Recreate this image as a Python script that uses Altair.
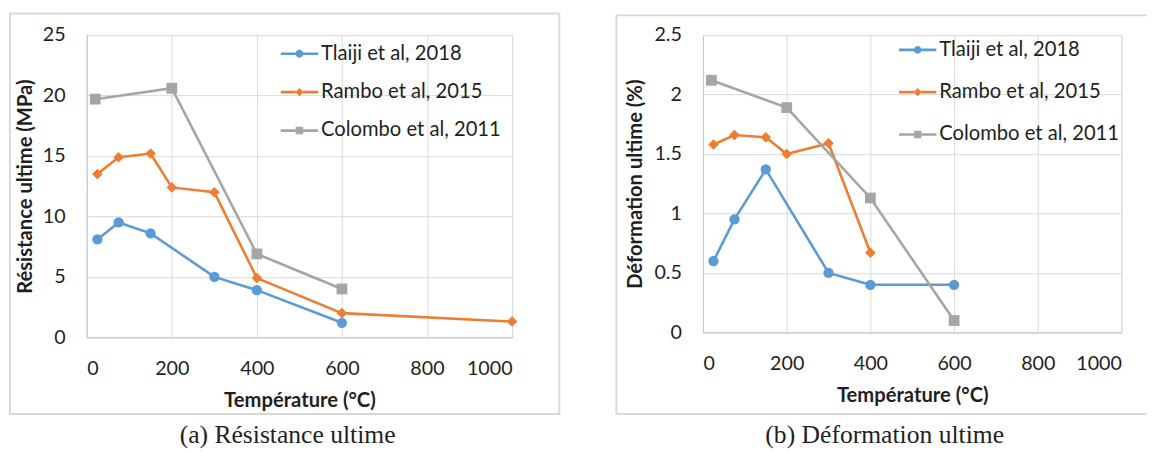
import altair as alt
import pandas as pd

series = ["Tlaiji et al, 2018", "Rambo et al, 2015", "Colombo et al, 2011"]
colors = ["#5B9BD5", "#ED7D31", "#A5A5A5"]

# (a) Résistance ultime (MPa)
tlaiji_T_a = [25, 75, 150, 300, 400, 600]
tlaiji_R = [8.1, 9.5, 8.6, 5.0, 3.9, 1.2]
rambo_T_a = [25, 75, 150, 200, 300, 400, 600, 1000]
rambo_R = [13.5, 14.9, 15.2, 12.4, 12.0, 4.9, 2.0, 1.3]
colombo_T_a = [20, 200, 400, 600]
colombo_R = [19.7, 20.6, 6.9, 4.0]

# (b) Déformation ultime (%)
tlaiji_T_b = [25, 75, 150, 300, 400, 600]
tlaiji_D = [0.60, 0.95, 1.37, 0.50, 0.40, 0.40]
rambo_T_b = [25, 75, 150, 200, 300, 400]
rambo_D = [1.58, 1.66, 1.64, 1.50, 1.59, 0.67]
colombo_T_b = [20, 200, 400, 600]
colombo_D = [2.12, 1.89, 1.13, 0.10]

x_ticks = [0, 200, 400, 600, 800, 1000]
y_ticks_a = [0, 5, 10, 15, 20, 25]
y_ticks_b = [0, 0.5, 1, 1.5, 2, 2.5]

FONT = "Lato"
TXT = "#1f1f1f"
GRID = "#D9D9D9"

legend_paths = [
    "M-1,-0.07H-0.2V0.07H-1Z M0.2,-0.07H1V0.07H0.2Z M-0.21,0A0.21,0.21,0,1,1,0.21,0A0.21,0.21,0,1,1,-0.21,0Z",
    "M-1,-0.07H-0.2V0.07H-1Z M0.2,-0.07H1V0.07H0.2Z M0,-0.22L0.22,0L0,0.22L-0.22,0Z",
    "M-1,-0.07H-0.2V0.07H-1Z M0.2,-0.07H1V0.07H0.2Z M-0.2,-0.2H0.2V0.2H-0.2Z",
]


def make_df(parts):
    rows = []
    for name, ts, vs in parts:
        for t, v in zip(ts, vs):
            rows.append({"T": t, "v": v, "series": name})
    return pd.DataFrame(rows)


def panel(df, y_ticks, y_title, w, h, box, legend_xy, row_pad, caption, cap_dx,
          y_title_pad, fmt):
    x = alt.X("T:Q", scale=alt.Scale(domain=[0, 1000], nice=False),
              axis=alt.Axis(values=x_ticks, title="Température (°C)", grid=True, format="d",
                            gridColor=GRID, domainColor="#C8C8C8", ticks=False, tickSize=0,
                            labelFont=FONT, labelFontSize=20, labelColor=TXT, labelPadding=22,
                            titleFont=FONT, titleFontSize=20.5, titleFontWeight="bold",
                            titleColor=TXT, titlePadding=12))
    y = alt.Y("v:Q", scale=alt.Scale(domain=[y_ticks[0], y_ticks[-1]], nice=False),
              axis=alt.Axis(values=y_ticks, title=y_title, grid=True, format=fmt,
                            gridColor=GRID, domainColor="#C8C8C8", ticks=False, tickSize=0,
                            labelFont=FONT, labelFontSize=20, labelColor=TXT, labelPadding=22,
                            titleFont=FONT, titleFontSize=20.5, titleFontWeight="bold",
                            titleColor=TXT, titlePadding=y_title_pad))
    cscale = alt.Scale(domain=series, range=colors)
    base = alt.Chart(df)
    line = base.mark_line(strokeWidth=2.6).encode(
        x=x, y=y, color=alt.Color("series:N", scale=cscale, legend=None),
        detail="series:N")
    pts = base.mark_point(filled=True, opacity=1).encode(
        x=x, y=y,
        color=alt.Color("series:N", scale=cscale, legend=None),
        shape=alt.Shape("series:N", scale=alt.Scale(domain=series,
                        range=["circle", "diamond", "square"]), legend=None),
        size=alt.Size("series:N", scale=alt.Scale(domain=series, range=[110, 120, 110]),
                      legend=None))
    leg = base.mark_point(filled=True, opacity=1).encode(
        x=x, y=y,
        color=alt.Color("series:N", scale=cscale, legend=alt.Legend(
            orient="none", legendX=legend_xy[0], legendY=legend_xy[1], title=None,
            labelFont=FONT, labelFontSize=20.5, labelColor=TXT, labelLimit=400,
            symbolSize=1444, symbolStrokeWidth=0, padding=0, rowPadding=row_pad,
            labelOffset=3)),
        shape=alt.Shape("series:N", scale=alt.Scale(domain=series, range=legend_paths)),
    ).transform_filter("false")

    bx0, by0, bx1, by1, full = box
    frame_df = pd.DataFrame({"k": [0]})
    if full:
        frame = alt.Chart(frame_df).mark_rect(filled=False, stroke=GRID, strokeWidth=2).encode(
            x=alt.value(bx0), x2=alt.value(bx1), y=alt.value(by0), y2=alt.value(by1))
        layers = [frame]
    else:
        fr = alt.Chart(frame_df).mark_rule(stroke=GRID, strokeWidth=2)
        layers = [
            fr.encode(x=alt.value(bx0), x2=alt.value(bx1), y=alt.value(by0)),
            fr.encode(x=alt.value(bx0), y=alt.value(by0), y2=alt.value(by1)),
            fr.encode(x=alt.value(bx0), x2=alt.value(bx1), y=alt.value(by1)),
        ]
    ch = alt.layer(*layers, line, pts, leg).resolve_scale(
        color="independent", shape="independent", size="independent"
    ).properties(
        width=w, height=h,
        title=alt.TitleParams(caption, orient="bottom", anchor="middle", frame="bounds",
                              font="Liberation Serif", fontSize=26, fontWeight="normal",
                              color=TXT, offset=7, baseline="top", dx=cap_dx))
    return ch


df_a = make_df([(series[0], tlaiji_T_a, tlaiji_R), (series[1], rambo_T_a, rambo_R),
                (series[2], colombo_T_a, colombo_R)])
df_b = make_df([(series[0], tlaiji_T_b, tlaiji_D), (series[1], rambo_T_b, rambo_D),
                (series[2], colombo_T_b, colombo_D)])

left = panel(df_a, y_ticks_a, "Résistance ultime (MPa)", 432, 307,
             (-78, -22, 480, 385, True), (197, 0), 9, "(a) Résistance ultime", 3, 7, "d")
right = panel(df_b, y_ticks_b, "Déformation ultime (%)", 425, 302,
              (-88, -20, 451, 385, False), (199, -4), 13, "(b) Déformation ultime", 3, 9, "~g")

chart = alt.hconcat(left, right, spacing=54).properties(
    padding={"left": 0, "top": 0, "right": 0, "bottom": 0}
).configure_view(strokeWidth=0).configure(background="white")

chart.save("out.html", embed_options={"renderer": "svg", "actions": False})
